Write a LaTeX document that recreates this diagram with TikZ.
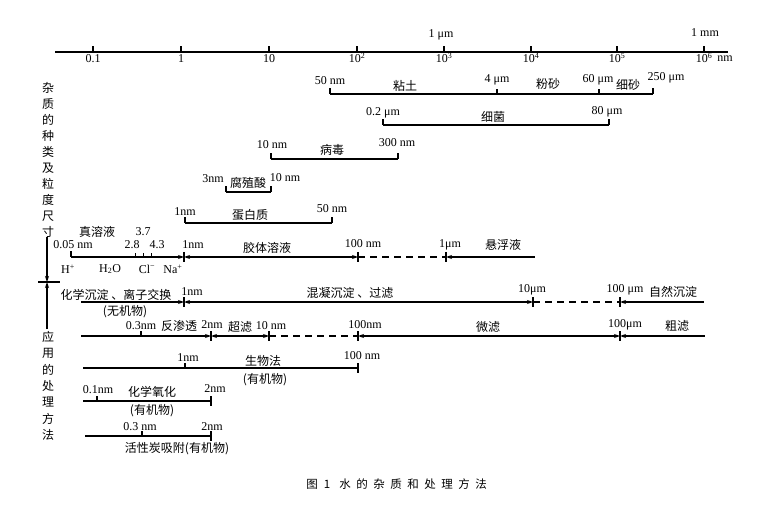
\documentclass[tikz,border=0pt]{standalone}
\usepackage{fontspec}
\setmainfont{Liberation Serif}
\newfontfamily\cjk{Noto Sans CJK SC}
\usetikzlibrary{arrows.meta}
\begin{document}
\begin{tikzpicture}[x=1pt,y=-1pt,
  num/.style={font=\fontsize{12}{14}\selectfont, inner sep=0pt},
  cn/.style={font=\cjk\fontsize{12}{14}\selectfont, inner sep=0pt},
  capt/.style={font=\cjk\fontsize{11.5}{13}\selectfont, inner sep=0pt},
  bar/.style={line width=1.1pt},
  dsh/.style={line width=1.1pt, dash pattern=on 7pt off 5pt},
  >={Stealth[length=6pt,width=4pt]}]
\useasboundingbox (0,0) rectangle (764,516);
\fill[white] (0,0) rectangle (764,516);

% ---------- axis ----------
\coordinate (ax0) at (55,52);
\coordinate (ax1) at (728,52);
\draw[bar] (ax0) -- (ax1);
\foreach \x/\n in {93/a,181/b,269/c,357/d,444/e,531/f,617/g,704/h}{
  \coordinate (t\n) at (\x,52);
  \draw[bar] (t\n) -- ++(0,-6);
}
\node[num] (la) at (93,59) {0.1};
\node[num] (lb) at (181,59) {1};
\node[num] (lc) at (269,59) {10};
\node[num] (ld) at (357,58) {10\textsuperscript{2}};
\node[num] (le) at (444,58) {10\textsuperscript{3}};
\node[num] (lf) at (531,58) {10\textsuperscript{4}};
\node[num] (lg) at (617,58) {10\textsuperscript{5}};
\node[num] (lh) at (704,58) {10\textsuperscript{6}};
\node[num] (lnm) at (725,59) {nm};
\node[num] (lum) at (441,35) {1 μm};
\node[num] (lmm) at (705,33) {1 mm};

% ---------- left vertical labels ----------
\foreach \c [count=\i from 0] in {杂,质,的,种,类,及,粒,度,尺,寸}
  \node[cn] (vu\i) at (48,88+16*\i) {\c};
\foreach \c [count=\i from 0] in {应,用,的,处,理,方,法}
  \node[cn] (vd\i) at (48,337+16.3*\i) {\c};
\coordinate (vt) at (47,237);
\coordinate (vm) at (47,282);
\coordinate (vb) at (47,329);
\coordinate (xl) at (38,282);
\coordinate (xr) at (60,282);
\draw[bar,->] (vt) -- (vm);
\draw[bar,->] (vb) -- (vm);
\draw[bar] (xl) -- (xr);

% ---------- clay / silt / sand ----------
\coordinate (ca) at (330,94);
\coordinate (cb) at (497,94);
\coordinate (cc) at (599,94);
\coordinate (cd) at (653,94);
\draw[bar] (ca) -- (cd) (ca) -- ++(0,-6) (cd) -- ++(0,-6)
  (cb) -- ++(0,-5) (cc) -- ++(0,-5);
\node[num] (c1) at (330,81) {50 nm};
\node[cn] (c2) at (405,86) {粘土};
\node[num] (c3) at (497,80) {4 μm};
\node[cn] (c4) at (548,84) {粉砂};
\node[num] (c5) at (598,80) {60 μm};
\node[cn] (c6) at (628,85) {细砂};
\node[num] (c7) at (666,78) {250 μm};

% ---------- bacteria ----------
\coordinate (ba) at (383,125);
\coordinate (bb) at (609,125);
\draw[bar] (ba) -- (bb) (ba) -- ++(0,-6) (bb) -- ++(0,-6);
\node[num] (b1) at (383,113) {0.2 μm};
\node[cn] (b2) at (493,117) {细菌};
\node[num] (b3) at (607,112) {80 μm};

% ---------- virus ----------
\coordinate (va) at (271,159);
\coordinate (vv) at (398,159);
\draw[bar] (va) -- (vv) (va) -- ++(0,-6) (vv) -- ++(0,-6);
\node[num] (v1) at (272,145) {10 nm};
\node[cn] (v2) at (332,150) {病毒};
\node[num] (v3) at (397,143) {300 nm};

% ---------- humic acid ----------
\coordinate (ha) at (226,192);
\coordinate (hb) at (271,192);
\draw[bar] (ha) -- (hb) (ha) -- ++(0,-6) (hb) -- ++(0,-6);
\node[num] (h1) at (213,179) {3nm};
\node[cn] (h2) at (248,183) {腐殖酸};
\node[num] (h3) at (285,178) {10 nm};

% ---------- protein ----------
\coordinate (pa) at (185,223);
\coordinate (pb) at (332,223);
\draw[bar] (pa) -- (pb) (pa) -- ++(0,-6) (pb) -- ++(0,-6);
\node[num] (p1) at (185,212) {1nm};
\node[cn] (p2) at (250,215) {蛋白质};
\node[num] (p3) at (332,209) {50 nm};

% ---------- solutions ----------
\coordinate (sa) at (71,257);
\coordinate (sb) at (184,257);
\coordinate (sc) at (358,257);
\coordinate (sd) at (446,257);
\coordinate (se) at (535,257);
\draw[bar,->] (sa) -- (sb);
\draw[bar,<->] (sb) -- (sc);
\draw[dsh] (sc) -- (sd);
\draw[bar,<-] (sd) -- (se);
\draw[bar] (sa) -- ++(0,-6);
\foreach \p in {sb,sc,sd} \draw[bar] (\p) ++(0,-5) -- ++(0,10);
\foreach \x in {135,143,151} \draw[line width=0.8pt] (\x,257) -- ++(0,-4);
\node[cn] (s0) at (97,232) {真溶液};
\node[num] (s1) at (143,232) {3.7};
\node[num] (s2) at (73,245) {0.05 nm};
\node[num] (s3) at (132,245) {2.8};
\node[num] (s4) at (157,245) {4.3};
\node[num] (s5) at (193,245) {1nm};
\node[cn] (s6) at (267,248) {胶体溶液};
\node[num] (s7) at (363,244) {100 nm};
\node[num] (s8) at (450,245) {1μm};
\node[cn] (s9) at (503,245) {悬浮液};
\node[num] (i1) at (68,269) {H\textsuperscript{+}};
\node[num] (i2) at (110,269) {H\textsubscript{2}O};
\node[num] (i3) at (147,269) {Cl\textsuperscript{−}};
\node[num] (i4) at (173,269) {Na\textsuperscript{+}};

% ---------- precipitation row ----------
\coordinate (ra) at (81,302);
\coordinate (rb) at (184,302);
\coordinate (rc) at (533,302);
\coordinate (rd) at (620,302);
\coordinate (re) at (704,302);
\draw[bar,->] (ra) -- (rb);
\draw[bar,<->] (rb) -- (rc);
\draw[dsh] (rc) -- (rd);
\draw[bar,<-] (rd) -- (re);
\foreach \p in {rb,rc,rd} \draw[bar] (\p) ++(0,-5) -- ++(0,10);
\node[cn] (r1) at (116,295) {化学沉淀 、离子交换};
\node[num] (r2) at (192,292) {1nm};
\node[cn] (r3) at (125,312) {(无机物)};
\node[cn] (r4) at (350,293) {混凝沉淀 、过滤};
\node[num] (r5) at (532,290) {10μm};
\node[num] (r6) at (625,290) {100 μm};
\node[cn] (r7) at (673,292) {自然沉淀};

% ---------- filtration row ----------
\coordinate (ua) at (81,336);
\coordinate (ut) at (141,336);
\coordinate (ub) at (211,336);
\coordinate (uc) at (269,336);
\coordinate (ud) at (358,336);
\coordinate (ue) at (620,336);
\coordinate (uf) at (705,336);
\draw[bar,->] (ua) -- (ub);
\draw[bar,<->] (ub) -- (uc);
\draw[dsh] (uc) -- (ud);
\draw[bar,<->] (ud) -- (ue);
\draw[bar,<-] (ue) -- (uf);
\draw[bar] (ut) -- ++(0,-5);
\foreach \p in {ub,uc,ud,ue} \draw[bar] (\p) ++(0,-5) -- ++(0,10);
\node[num] (u1) at (141,326) {0.3nm};
\node[cn] (u2) at (179,326) {反渗透};
\node[num] (u3) at (212,325) {2nm};
\node[cn] (u4) at (240,327) {超滤};
\node[num] (u5) at (271,326) {10 nm};
\node[num] (u6) at (365,325) {100nm};
\node[cn] (u7) at (488,327) {微滤};
\node[num] (u8) at (625,325) {100μm};
\node[cn] (u9) at (677,326) {粗滤};

% ---------- biological ----------
\coordinate (ga) at (83,368);
\coordinate (gt) at (185,368);
\coordinate (gb) at (358,368);
\draw[bar] (ga) -- (gb) (gt) -- ++(0,-5) (gb) ++(0,-5) -- ++(0,10);
\node[num] (g1) at (188,358) {1nm};
\node[cn] (g2) at (263,361) {生物法};
\node[num] (g3) at (362,356) {100 nm};
\node[cn] (g4) at (265,380) {(有机物)};

% ---------- chemical oxidation ----------
\coordinate (oa) at (83,401);
\coordinate (ot) at (97,401);
\coordinate (ob) at (211,401);
\draw[bar] (oa) -- (ob) (ot) -- ++(0,-5) (ob) ++(0,-5) -- ++(0,10);
\node[num] (o1) at (98,390) {0.1nm};
\node[cn] (o2) at (152,392) {化学氧化};
\node[num] (o3) at (215,389) {2nm};
\node[cn] (o4) at (152,411) {(有机物)};

% ---------- activated carbon ----------
\coordinate (aa) at (85,436);
\coordinate (at1) at (142,436);
\coordinate (ab) at (211,436);
\draw[bar] (aa) -- (ab) (at1) -- ++(0,-5) (ab) ++(0,-5) -- ++(0,10);
\node[num] (a1) at (140,427) {0.3 nm};
\node[num] (a2) at (212,427) {2nm};
\node[cn] (a3) at (177,449) {活性炭吸附(有机物)};

% ---------- caption ----------
\foreach \c/\x in {图/312,1/327,水/345,的/362,杂/379,质/396,和/413,处/430,理/447,方/464,法/481}
  \node[capt] (cap\x) at (\x,484) {\c};
\end{tikzpicture}
\end{document}
